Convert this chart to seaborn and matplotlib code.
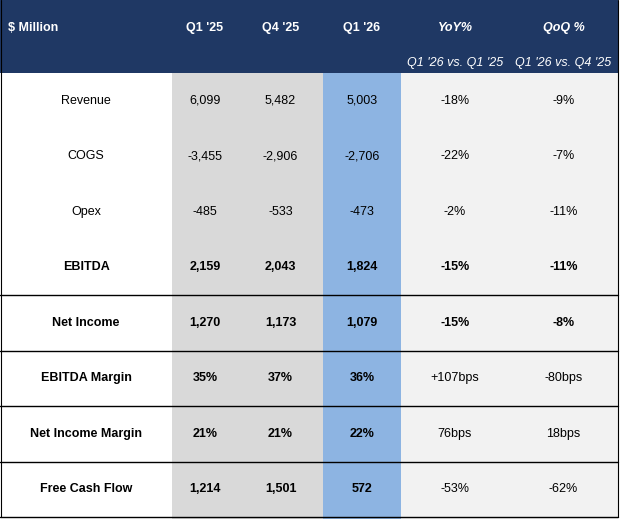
import matplotlib
matplotlib.use("Agg")
import matplotlib.pyplot as plt
import seaborn as sns
from matplotlib.patches import Rectangle

sns.set_style("white")
plt.rcParams['font.family'] = ['Liberation Sans', 'DejaVu Sans']

headers = ["$ Million", "Q1 '25", "Q4 '25", "Q1 '26", "YoY%", "QoQ %"]
subheaders = ["", "", "", "", "Q1 '26 vs. Q1 '25", "Q1 '26 vs. Q4 '25"]
rows = ["Revenue", "COGS", "Opex", "EBITDA", "Net Income", "EBITDA Margin", "Net Income Margin", "Free Cash Flow"]
q1_25 = ["6,099", "-3,455", "-485", "2,159", "1,270", "35%", "21%", "1,214"]
q4_25 = ["5,482", "-2,906", "-533", "2,043", "1,173", "37%", "21%", "1,501"]
q1_26 = ["5,003", "-2,706", "-473", "1,824", "1,079", "36%", "22%", "572"]
yoy = ["-18%", "-22%", "-2%", "-15%", "-15%", "+107bps", "76bps", "-53%"]
qoq = ["-9%", "-7%", "-11%", "-11%", "-8%", "-80bps", "18bps", "-62%"]
bold_rows = [False, False, False, True, True, True, True, True]
bold_pct = [False, False, False, True, True, False, False, False]

col_edges = [0, 172, 238, 323, 401, 509, 618]
col_colors = ["white", "#D9D9D9", "#D9D9D9", "#8DB4E2", "#F2F2F2", "#F2F2F2"]
header_h = 73
row_h = 55.5

fig = plt.figure(figsize=(6.2, 5.19), dpi=100)
ax = fig.add_axes([0, 0, 1, 1])
ax.set_xlim(0, 620)
ax.set_ylim(519, 0)
ax.axis("off")

ax.add_patch(Rectangle((0, 0), 618, header_h, color="#1F3864", lw=0))
for i in range(6):
    ax.add_patch(Rectangle((col_edges[i], header_h), col_edges[i+1]-col_edges[i],
                           519-header_h, color=col_colors[i], lw=0))

centers = [(col_edges[i]+col_edges[i+1])/2 for i in range(6)]
centers[0] = 86
for i, h in enumerate(headers):
    style = "italic" if i >= 4 else "normal"
    x = 8 if i == 0 else centers[i]
    ha = "left" if i == 0 else "center"
    ax.text(x, 28, h, color="white", fontsize=9, fontweight="bold", fontstyle=style,
            ha=ha, va="center")
    if subheaders[i]:
        ax.text(centers[i], 63, subheaders[i], color="white", fontsize=9,
                fontstyle="italic", ha="center", va="center")

for r, name in enumerate(rows):
    y = header_h + row_h*(r+0.5)
    w = "bold" if bold_rows[r] else "normal"
    wp = "bold" if bold_pct[r] else "normal"
    vals = [name, q1_25[r], q4_25[r], q1_26[r], yoy[r], qoq[r]]
    for c, v in enumerate(vals):
        ax.text(centers[c], y, v, fontsize=9, fontweight=(w if c < 4 else wp),
                ha="center", va="center", color="black")

for r in range(4, 9):
    y = header_h + row_h*r
    ax.plot([0, 618], [y, y], color="black", lw=1)
ax.plot([0.5, 0.5], [0, 517], color="black", lw=0.8)
ax.plot([618, 618], [0, 517], color="black", lw=0.8)

fig.savefig("out.png", dpi=100)
